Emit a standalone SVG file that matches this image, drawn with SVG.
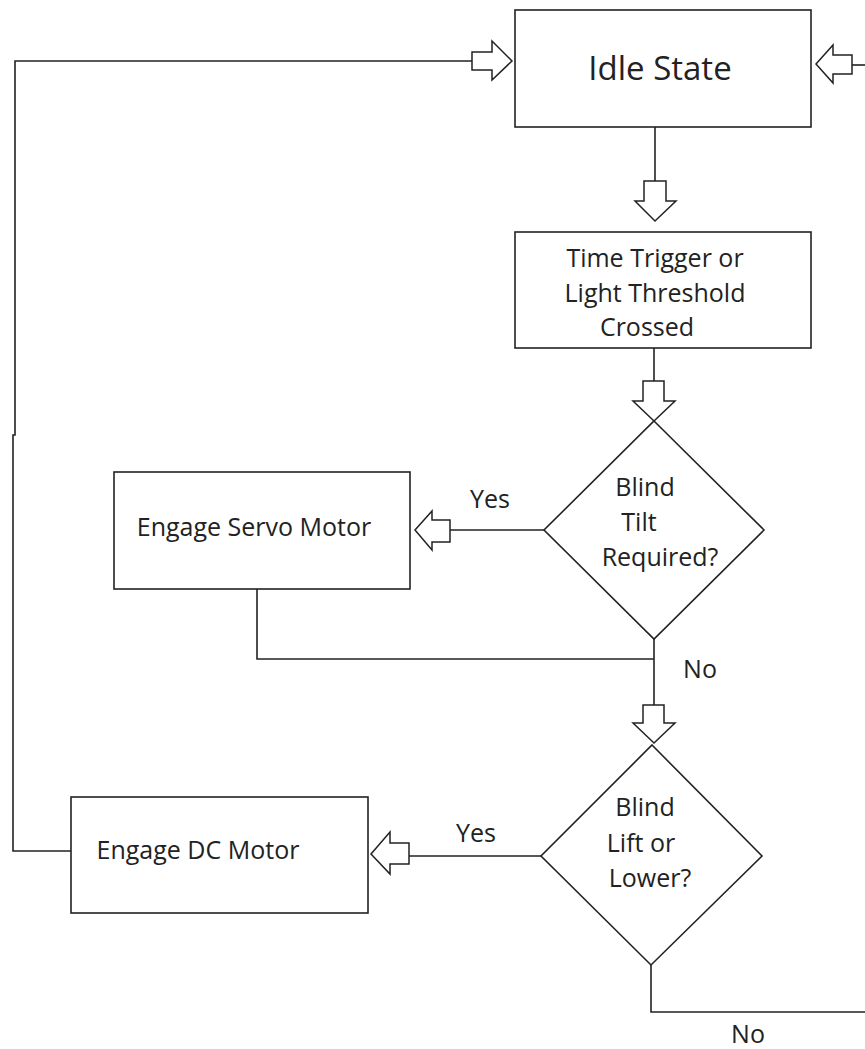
<svg xmlns="http://www.w3.org/2000/svg" width="865" height="1049" viewBox="0 0 865 1049">
<style>
.box{fill:#fff;stroke:#222;stroke-width:1.6}
.ln{fill:none;stroke:#222;stroke-width:1.6}
.arr{fill:#fff;stroke:#222;stroke-width:1.5;stroke-linejoin:miter}
text{font-family:"Open Sans","Noto Sans",sans-serif;fill:#222;text-anchor:middle}
.t{font-size:25px}
</style>
<rect width="865" height="1049" fill="#fff"/>
<g id="connectors">
<polyline class="ln" points="472,61 15,61 15,435 13,435 13,851 71,851"/>
<line class="ln" x1="852" y1="65" x2="865" y2="65"/>
<line class="ln" x1="655" y1="127" x2="655" y2="181"/>
<line class="ln" x1="654" y1="348" x2="654" y2="381"/>
<line class="ln" x1="544" y1="530" x2="450" y2="530"/>
<polyline class="ln" points="257,589 257,659 654,659"/>
<line class="ln" x1="654" y1="639" x2="654" y2="705"/>
<line class="ln" x1="541" y1="856" x2="409" y2="856"/>
<polyline class="ln" points="651,965 651,1012 865,1012"/>
<polygon class="arr" points="472,52 492,52 492,41 512,61 492,80 492,70 472,70"/>
<polygon class="arr" points="852,55 833,55 833,45 816,64 833,83 833,74 852,74"/>
<polygon class="arr" points="644,181 666,181 666,201 676,201 655,221 635,201 644,201"/>
<polygon class="arr" points="643,381 664,381 664,401 675,401 654,421 633,401 643,401"/>
<polygon class="arr" points="450,520 432,520 432,511 415,530 432,550 432,542 450,542"/>
<polygon class="arr" points="643,705 664,705 664,723 675,723 654,743 633,723 643,723"/>
<polygon class="arr" points="409,843 390,843 390,832 371,854 390,874 390,864 409,864"/>
<text class="t" x="490" y="508">Yes</text>
<text class="t" x="700" y="678">No</text>
<text class="t" x="476" y="842">Yes</text>
<text class="t" x="748" y="1043">No</text>
</g>
<g id="idle">
<rect class="box" x="515" y="10" width="296" height="117"/>
<text x="660" y="80" font-size="33">Idle State</text>
</g>
<g id="trigger">
<rect class="box" x="515" y="232" width="296" height="116"/>
<text class="t" x="655" y="267">Time Trigger or</text>
<text class="t" x="655" y="302">Light Threshold</text>
<text class="t" x="647" y="336">Crossed</text>
</g>
<g id="tilt">
<polygon class="box" points="654,421 764,530 654,639 544,530"/>
<text class="t" x="645" y="496">Blind</text>
<text class="t" x="639" y="531">Tilt</text>
<text class="t" x="660" y="566">Required?</text>
</g>
<g id="servo">
<rect class="box" x="114" y="472" width="296" height="117"/>
<text class="t" x="254" y="536">Engage Servo Motor</text>
</g>
<g id="lift">
<polygon class="box" points="652,745 762,856 651,965 541,856"/>
<text class="t" x="645" y="816">Blind</text>
<text class="t" x="641" y="852">Lift or</text>
<text class="t" x="650" y="887">Lower?</text>
</g>
<g id="dc">
<rect class="box" x="71" y="797" width="297" height="116"/>
<text class="t" x="198" y="859">Engage DC Motor</text>
</g>
</svg>
